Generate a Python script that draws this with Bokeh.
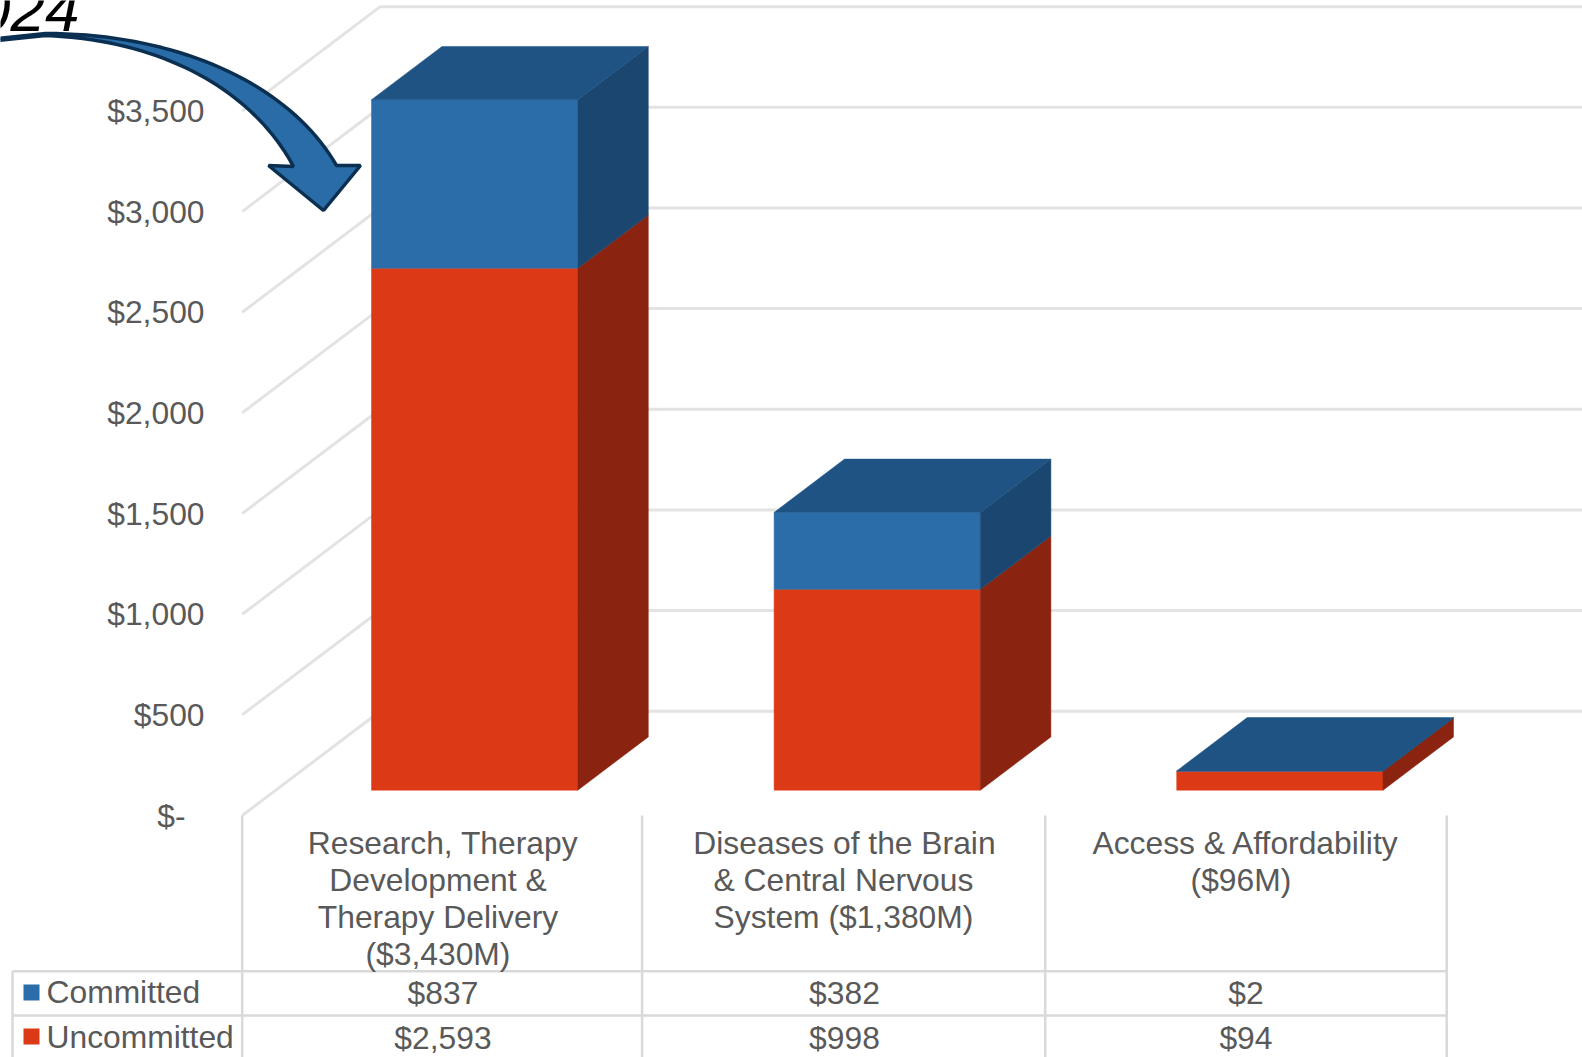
from bokeh.plotting import figure
from bokeh.models import Range1d
from bokeh.core.properties import value
from bokeh.embed import file_html
from bokeh.resources import INLINE
import numpy as np

categories = ["Research, Therapy\nDevelopment &\nTherapy Delivery\n($3,430M)",
              "Diseases of the Brain\n& Central Nervous\nSystem ($1,380M)",
              "Access & Affordability\n($96M)"]
committed = [837, 382, 2]
uncommitted = [2593, 998, 94]
committed_labels = ["$837", "$382", "$2"]
uncommitted_labels = ["$2,593", "$998", "$94"]
y_ticks = [0, 500, 1000, 1500, 2000, 2500, 3000, 3500]
y_labels = ["$-", "$500", "$1,000", "$1,500", "$2,000", "$2,500", "$3,000", "$3,500"]

W, H = 1582, 1057
PX_X0, PX_BAND = 241.7, 401.5     # pixel of x=0 and pixels per category band
PX_Y0, PX_UNIT = 815.0, 0.2013    # pixel of $0 and pixels per dollar

def X(px): return (np.asarray(px, float) - PX_X0) / PX_BAND
def Y(py): return (PX_Y0 - np.asarray(py, float)) / PX_UNIT
def DX(px): return px / PX_BAND
def DY(px): return px / PX_UNIT

FONT = value("Liberation Sans")
TXT = "#595959"
GRID = "#E3E3E3"
TABLE = "#D9D9D9"
BLUE, BLUE_TOP, BLUE_SIDE = "#2A6DA8", "#1F5383", "#1A466F"
RED, RED_SIDE = "#DC3A16", "#8A2410"
SIZE = "31.8px"

p = figure(width=W, height=H, x_range=Range1d(float(X(0)), float(X(W))),
           y_range=Range1d(float(Y(H)), float(Y(0))), output_backend="svg",
           toolbar_location=None, min_border=0, outline_line_color=None)
p.axis.visible = False
p.grid.visible = False

# walls
wall_dx, wall_dy = DX(138), DY(104.3)
xs, ys = [], []
right = float(X(W))
for v in y_ticks:
    xs.append([0, wall_dx, right])
    ys.append([v, v + wall_dy, v + wall_dy])
p.multi_line(xs, ys, line_color=GRID, line_width=3)

# bars
bar_off, bar_w, bar_step = DX(129.3), DX(206.3), DX(402.6)
bar_dx, bar_dy, floor = DX(70.5), DY(53.3), DY(25.3)
lefts = [bar_off + i * bar_step for i in range(len(categories))]
for lows, highs, front, side in [
    ([0] * 3, uncommitted, RED, RED_SIDE),
    (uncommitted, [u + c for u, c in zip(uncommitted, committed)], BLUE, BLUE_SIDE),
]:
    b = [l + floor for l in lows]
    t = [h + floor for h in highs]
    p.quad(left=lefts, right=[l + bar_w for l in lefts], bottom=b, top=t,
           fill_color=front, line_color=front, line_width=0.5)
    p.patches([[l + bar_w, l + bar_w + bar_dx, l + bar_w + bar_dx, l + bar_w] for l in lefts],
              [[bb, bb + bar_dy, tt + bar_dy, tt] for bb, tt in zip(b, t)],
              fill_color=side, line_color=side, line_width=0.5)
tops = [u + c + floor for u, c in zip(uncommitted, committed)]
p.patches([[l, l + bar_dx, l + bar_dx + bar_w, l + bar_w] for l in lefts],
          [[t, t + bar_dy, t + bar_dy, t] for t in tops],
          fill_color=BLUE_TOP, line_color=BLUE_TOP, line_width=0.5)

# y tick labels
p.text(x=[float(X(185 if v == 0 else 204)) for v in y_ticks], y=y_ticks, text=y_labels,
       text_align="right", text_baseline="middle", text_font=FONT,
       text_font_size=SIZE, text_color=TXT)

# data table
row1, row2, row_end = 970.7, 1015, H
n = len(categories)
edges = [0, 0.996, 2.0, 3]
p.multi_line([[float(X(12)), n], [float(X(12)), n]], [[float(Y(row1))] * 2, [float(Y(row2))] * 2],
             line_color=TABLE, line_width=2.5)
p.multi_line([[e, e] for e in edges], [[0, float(Y(row_end))]] * (n + 1),
             line_color=TABLE, line_width=2.5)
p.line([float(X(12))] * 2, [float(Y(row1)), float(Y(row_end))], line_color=TABLE, line_width=2.5)

line_shift = [[0, -5, -5, -5], [0, -1, -1], [0, -5]]
lx, ly, lt = [], [], []
for i, cat in enumerate(categories):
    for j, line in enumerate(cat.split("\n")):
        lx.append(i + 0.5 + DX(line_shift[i][j]))
        ly.append(float(Y(842.5 + j * 37)))
        lt.append(line)
p.text(lx, ly, text=lt, text_align="center", text_baseline="middle", text_font=FONT,
       text_font_size=SIZE, text_color=TXT)
p.text([i + 0.5 for i in range(n)], [float(Y(992))] * n, text=committed_labels, text_align="center",
       text_baseline="middle", text_font=FONT, text_font_size=SIZE, text_color=TXT)
p.text([i + 0.5 for i in range(n)], [float(Y(1037))] * n, text=uncommitted_labels, text_align="center",
       text_baseline="middle", text_font=FONT, text_font_size=SIZE, text_color=TXT)

# legend keys inside the table
p.quad(left=[float(X(23))], right=[float(X(39))], bottom=[float(Y(1000))], top=[float(Y(984))],
       fill_color=BLUE, line_color=None)
p.quad(left=[float(X(23))], right=[float(X(39))], bottom=[float(Y(1044))], top=[float(Y(1028))],
       fill_color=RED, line_color=None)
p.text([float(X(46))] * 2, [float(Y(991)), float(Y(1036))], text=["Committed", "Uncommitted"],
       text_align="left", text_baseline="middle", text_font=FONT, text_font_size=SIZE, text_color=TXT)

# title fragment and callout arrow
p.text([float(X(79))], [float(Y(9))], text=["2024"], text_align="right", text_baseline="alphabetic",
       text_font=FONT, text_font_size="62px", text_font_style="italic", text_color="#000000")

def bez(p0, p1, p2, p3, n=40):
    t = np.linspace(0, 1, n)[:, None]
    a = [np.array(q, float) for q in (p0, p1, p2, p3)]
    return (1 - t) ** 3 * a[0] + 3 * (1 - t) ** 2 * t * a[1] + 3 * (1 - t) * t ** 2 * a[2] + t ** 3 * a[3]

outer = bez((45, 33), (180, 33), (290, 85), (336, 165))
inner = bez((293, 166), (255, 95), (170, 40), (45, 35))
pts = np.vstack([[(-4, 38)], outer, [(360, 165), (323, 210), (268, 165), (293, 166)], inner, [(-4, 40)]])
p.patch(X(pts[:, 0]), Y(pts[:, 1]), fill_color="#2A6CA7", line_color="#0B2F50", line_width=3.5)

open("out.html", "w").write(file_html(p, INLINE))
